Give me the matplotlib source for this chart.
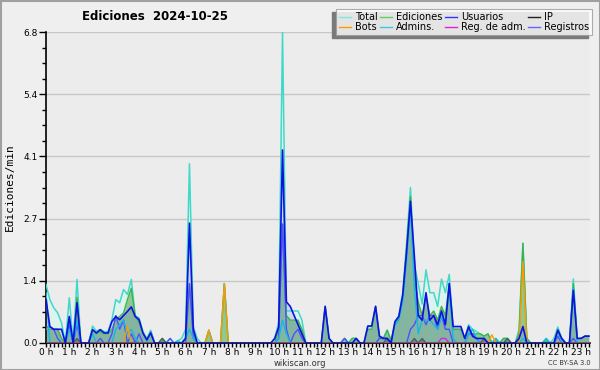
import numpy as np
import matplotlib
matplotlib.use("Agg")
import matplotlib.pyplot as plt
from matplotlib.lines import Line2D
from matplotlib.patches import Rectangle
from matplotlib.transforms import IdentityTransform

# values per 10 minutes (edits/min), one row per hour
total = [
    1.28, 0.95, 0.77, 0.66, 0.44, 0.0,
    0.99, 0.0, 1.39, 0.0, 0.0, 0.0,
    0.37, 0.26, 0.3, 0.25, 0.25, 0.51,
    0.95, 0.88, 1.17, 1.06, 1.39, 0.6,
    0.55, 0.25, 0.1, 0.28, 0.0, 0.0,
    0.1, 0.0, 0.1, 0.0, 0.05, 0.1,
    0.3, 3.92, 0.36, 0.1, 0.0, 0.0,
    0.28, 0.0, 0.0, 0.0, 1.3, 0.0,
    0.0, 0.0, 0.0, 0.0, 0.0, 0.0,
    0.0, 0.0, 0.0, 0.0, 0.0, 0.1,
    0.45, 6.8, 0.7, 0.7, 0.7, 0.7,
    0.5, 0.0, 0.0, 0.0, 0.0, 0.0,
    0.8, 0.1, 0.0, 0.0, 0.0, 0.1,
    0.0, 0.1, 0.1, 0.0, 0.0, 0.37,
    0.37, 0.8, 0.15, 0.1, 0.28, 0.05,
    0.45, 0.6, 1.1, 2.2, 3.4, 1.7,
    1.3, 0.85, 1.6, 1.1, 1.1, 0.8,
    1.4, 1.1, 1.5, 0.3, 0.3, 0.3,
    0.1, 0.4, 0.3, 0.25, 0.2, 0.15,
    0.2, 0.0, 0.1, 0.0, 0.1, 0.1,
    0.0, 0.0, 0.3, 2.18, 0.1, 0.0,
    0.0, 0.0, 0.0, 0.1, 0.0, 0.1,
    0.35, 0.1, 0.0, 0.0, 1.4, 0.1,
    0.1, 0.15, 0.15,
]
ediciones = [
    0.3, 0.3, 0.3, 0.3, 0.1, 0.0,
    0.5, 0.0, 1.0, 0.0, 0.0, 0.0,
    0.3, 0.2, 0.25, 0.2, 0.2, 0.3,
    0.5, 0.58, 0.66, 0.95, 1.2, 0.6,
    0.45, 0.2, 0.05, 0.25, 0.0, 0.0,
    0.1, 0.0, 0.0, 0.0, 0.0, 0.0,
    0.1, 1.3, 0.2, 0.0, 0.0, 0.0,
    0.28, 0.0, 0.0, 0.0, 1.3, 0.0,
    0.0, 0.0, 0.0, 0.0, 0.0, 0.0,
    0.0, 0.0, 0.0, 0.0, 0.0, 0.0,
    0.3, 2.6, 0.6, 0.5, 0.5, 0.5,
    0.3, 0.0, 0.0, 0.0, 0.0, 0.0,
    0.8, 0.1, 0.0, 0.0, 0.0, 0.1,
    0.0, 0.1, 0.1, 0.0, 0.0, 0.3,
    0.3, 0.8, 0.1, 0.1, 0.28, 0.05,
    0.4, 0.55, 1.0, 2.1, 3.2, 1.4,
    0.9, 0.6, 1.0, 0.6, 0.7, 0.5,
    0.8, 0.6, 1.3, 0.3, 0.3, 0.3,
    0.1, 0.3, 0.2, 0.2, 0.2, 0.15,
    0.2, 0.0, 0.05, 0.0, 0.1, 0.1,
    0.0, 0.0, 0.2, 2.18, 0.1, 0.0,
    0.0, 0.0, 0.0, 0.05, 0.0, 0.0,
    0.3, 0.1, 0.0, 0.0, 1.3, 0.1,
    0.1, 0.15, 0.15,
]
usuarios = [
    0.95, 0.36, 0.3, 0.3, 0.3, 0.0,
    0.58, 0.0, 0.88, 0.0, 0.0, 0.0,
    0.29, 0.22, 0.29, 0.22, 0.22, 0.47,
    0.58, 0.51, 0.6, 0.69, 0.79, 0.58,
    0.51, 0.22, 0.07, 0.22, 0.0, 0.0,
    0.0, 0.0, 0.0, 0.0, 0.0, 0.0,
    0.1, 2.62, 0.3, 0.0, 0.0, 0.0,
    0.0, 0.0, 0.0, 0.0, 0.0, 0.0,
    0.0, 0.0, 0.0, 0.0, 0.0, 0.0,
    0.0, 0.0, 0.0, 0.0, 0.0, 0.1,
    0.35, 4.22, 0.9, 0.8, 0.6, 0.4,
    0.2, 0.0, 0.0, 0.0, 0.0, 0.0,
    0.8, 0.1, 0.0, 0.0, 0.0, 0.0,
    0.0, 0.0, 0.1, 0.0, 0.0, 0.37,
    0.37, 0.8, 0.15, 0.1, 0.1, 0.0,
    0.47, 0.58, 1.05, 2.0, 3.1, 1.9,
    0.6, 0.5, 1.1, 0.5, 0.6, 0.4,
    0.7, 0.4, 1.3, 0.36, 0.36, 0.36,
    0.1, 0.36, 0.15, 0.1, 0.1, 0.1,
    0.0, 0.0, 0.0, 0.0, 0.0, 0.0,
    0.0, 0.0, 0.1, 0.36, 0.0, 0.0,
    0.0, 0.0, 0.0, 0.0, 0.0, 0.0,
    0.28, 0.1, 0.0, 0.0, 1.15, 0.1,
    0.1, 0.15, 0.15,
]
admins = [
    1.1, 0.0, 0.0, 0.0, 0.0, 0.0,
    0.3, 0.0, 0.5, 0.0, 0.0, 0.0,
    0.2, 0.0, 0.0, 0.0, 0.0, 0.0,
    0.3, 0.4, 0.5, 0.2, 0.3, 0.1,
    0.0, 0.0, 0.0, 0.25, 0.0, 0.0,
    0.0, 0.0, 0.0, 0.0, 0.05, 0.0,
    0.1, 0.3, 0.1, 0.0, 0.0, 0.0,
    0.0, 0.0, 0.0, 0.0, 0.0, 0.0,
    0.0, 0.0, 0.0, 0.0, 0.0, 0.0,
    0.0, 0.0, 0.0, 0.0, 0.0, 0.0,
    0.1, 0.5, 0.2, 0.0, 0.0, 0.0,
    0.0, 0.0, 0.0, 0.0, 0.0, 0.0,
    0.0, 0.0, 0.0, 0.0, 0.0, 0.0,
    0.0, 0.0, 0.0, 0.0, 0.0, 0.0,
    0.0, 0.0, 0.0, 0.0, 0.1, 0.0,
    0.4, 0.5, 0.9, 1.8, 3.0, 1.2,
    0.2, 0.5, 0.5, 0.5, 0.4, 0.3,
    0.6, 0.4, 1.2, 0.1, 0.0, 0.0,
    0.0, 0.2, 0.3, 0.1, 0.0, 0.0,
    0.0, 0.0, 0.1, 0.0, 0.0, 0.1,
    0.0, 0.0, 0.0, 0.1, 0.0, 0.0,
    0.0, 0.0, 0.0, 0.1, 0.0, 0.0,
    0.3, 0.0, 0.0, 0.0, 1.2, 0.0,
    0.0, 0.0, 0.0,
]
registros = [
    0.35, 0.35, 0.3, 0.1, 0.0, 0.0,
    0.4, 0.0, 0.4, 0.0, 0.0, 0.0,
    0.0, 0.0, 0.1, 0.0, 0.0, 0.2,
    0.6, 0.3, 0.5, 0.0, 0.2, 0.0,
    0.2, 0.0, 0.0, 0.0, 0.0, 0.0,
    0.0, 0.0, 0.1, 0.0, 0.0, 0.0,
    0.0, 1.3, 0.1, 0.0, 0.0, 0.0,
    0.0, 0.0, 0.0, 0.0, 0.0, 0.0,
    0.0, 0.0, 0.0, 0.0, 0.0, 0.0,
    0.0, 0.0, 0.0, 0.0, 0.0, 0.0,
    0.1, 2.6, 0.3, 0.0, 0.2, 0.3,
    0.1, 0.0, 0.0, 0.0, 0.0, 0.0,
    0.0, 0.0, 0.0, 0.0, 0.0, 0.1,
    0.0, 0.0, 0.0, 0.0, 0.0, 0.0,
    0.0, 0.0, 0.1, 0.1, 0.1, 0.0,
    0.0, 0.0, 0.0, 0.0, 0.3, 0.4,
    0.6, 0.6, 0.4, 0.6, 0.6, 0.3,
    0.6, 0.3, 0.3, 0.0, 0.0, 0.0,
    0.0, 0.2, 0.2, 0.1, 0.0, 0.0,
    0.0, 0.0, 0.0, 0.0, 0.0, 0.0,
    0.0, 0.0, 0.0, 0.0, 0.0, 0.0,
    0.0, 0.0, 0.0, 0.0, 0.0, 0.0,
    0.15, 0.0, 0.0, 0.0, 0.1, 0.0,
    0.0, 0.0, 0.0,
]
# sparse series: index (10-min step) -> value
bots = {21: 0.37, 42: 0.28, 46: 1.3, 115: 0.18, 123: 1.78}
ip = {8: 0.1, 30: 0.1, 88: 0.1, 95: 0.1, 97: 0.1, 113: 0.1, 119: 0.1}
reg_adm = {102: 0.1, 103: 0.1}

hour_labels = [f"{h} h" for h in range(24)]
y_ticks = [0.0, 1.36, 2.72, 4.08, 5.44, 6.8]

n = len(total)
x = np.arange(n) / 6.0


def sparse(d):
    arr = np.zeros(n)
    for k, v in d.items():
        arr[k] = v
    return arr


bots_arr = sparse(bots)
ip_arr = sparse(ip)
reg_adm_arr = sparse(reg_adm)

c_total = "#3fd9c9"
c_edic = "#3cb44b"
c_users = "#1010e0"
c_bots = "#ff9900"
c_admins = "#14b8e6"
c_regadm = "#dd22dd"
c_regis = "#5050ff"

fig = plt.figure(figsize=(6, 3.7), dpi=100, facecolor="#efefef")
ax = fig.add_axes([46 / 600, 27 / 370, 544 / 600, 311 / 370])
ax.set_facecolor("#ececed")

ax.fill_between(x, total, color="#dcf3ee", lw=0, zorder=1)
ax.fill_between(x, ediciones, color="#8fc893", lw=0, zorder=2)
ax.fill_between(x, usuarios, color="#3030ff", alpha=0.12, lw=0, zorder=3)
ax.fill_between(x, ip_arr, color="#333333", alpha=0.35, lw=0, zorder=3)

ax.plot(x, total, color=c_total, lw=1.1, zorder=4)
ax.plot(x, ediciones, color=c_edic, lw=1.0, zorder=5)
ax.plot(x, registros, color=c_regis, lw=1.0, zorder=6)
ax.plot(x, admins, color=c_admins, lw=1.0, zorder=6)
ax.plot(x, bots_arr, color=c_bots, lw=1.0, zorder=7)
ax.plot(x, reg_adm_arr, color=c_regadm, lw=1.0, zorder=7)
ax.plot(x, ip_arr, color="#555555", lw=0.9, zorder=7)
ax.plot(x, usuarios, color=c_users, lw=1.2, zorder=8)

ax.set_xlim(0, (n - 1) / 6.0 + 0.05)
ax.set_ylim(0, 6.8)
ax.set_yticks(y_ticks)
ax.set_yticklabels([f"{v:.1f}" for v in y_ticks])
ax.set_yticks(np.arange(0, 6.81, 0.34), minor=True)
ax.set_xticks(range(24))
ax.set_xticklabels(hour_labels)
ax.set_xticks(np.arange(0, 23.5, 1 / 6), minor=True)
ax.grid(axis="y", color="#c8c8c8", lw=1)
ax.set_axisbelow(True)

for s in ["top", "right"]:
    ax.spines[s].set_visible(False)
ax.spines["left"].set_linewidth(1.2)
ax.spines["bottom"].set_linewidth(1.2)
ax.tick_params(axis="y", which="major", length=5, width=1, labelsize=6.5, pad=1)
ax.tick_params(axis="y", which="minor", length=3, width=1)
ax.tick_params(axis="x", which="both", length=3, width=1, labelsize=6.5, pad=0.5)

ax.set_ylabel("Ediciones/min", family="DejaVu Sans Mono", fontsize=8, labelpad=6)

fig.text(155 / 600, 1 - 17 / 370, "Ediciones  2024-10-25", ha="center", va="center",
         fontsize=8.5, fontweight="bold")
fig.text(300 / 600, 1 - 363 / 370, "wikiscan.org", ha="center", va="center",
         fontsize=6, color="#333333")
fig.text(591 / 600, 1 - 363 / 370, "CC BY-SA 3.0", ha="right", va="center",
         fontsize=4.8, color="#333333")

handles = [
    Line2D([], [], color="#7fe8dc", lw=1),
    Line2D([], [], color=c_bots, lw=1),
    Line2D([], [], color="#66cc66", lw=1),
    Line2D([], [], color="#33ccdd", lw=1),
    Line2D([], [], color="#3333ff", lw=1),
    Line2D([], [], color=c_regadm, lw=1),
    Line2D([], [], color="#222222", lw=1),
    Line2D([], [], color="#6666ff", lw=1),
]
labels = ["Total", "Bots", "Ediciones", "Admins.", "Usuarios",
          "Reg. de adm.", "IP", "Registros"]
leg = fig.legend(handles, labels, ncol=4, loc="upper right",
                 bbox_to_anchor=(592 / 600, 1 - 9 / 370), fontsize=7,
                 frameon=True, fancybox=False, edgecolor="#9a9a9a",
                 handlelength=1.2, handletextpad=0.4, columnspacing=0.3,
                 labelspacing=0.05, borderpad=0.3, borderaxespad=0)
leg.get_frame().set_linewidth(0.8)
leg.set_zorder(10)

fig.canvas.draw()
bb = leg.get_window_extent()
fig.add_artist(Rectangle((bb.x0 - 4, bb.y0 - 3), bb.width, bb.height,
                         transform=IdentityTransform(), color="#7a7a7a",
                         zorder=9))
fig.add_artist(Rectangle((0.5, 0.5), 599, 369, transform=IdentityTransform(),
                         fill=False, edgecolor="#a0a0a0", lw=1.5, zorder=11))

fig.savefig("out.png", dpi=100, facecolor=fig.get_facecolor())
